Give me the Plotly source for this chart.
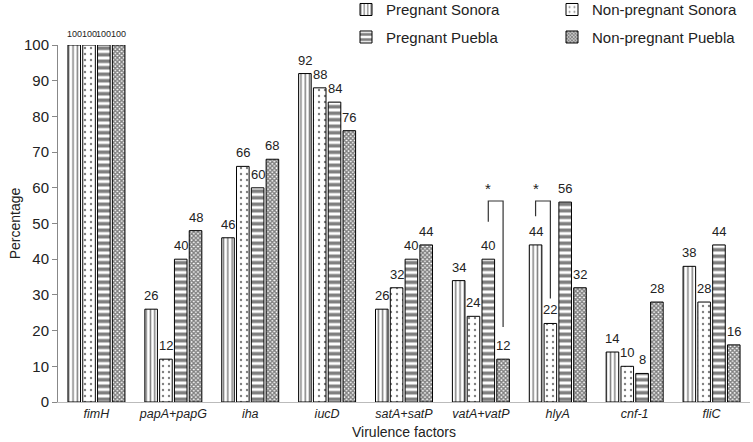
import plotly.graph_objects as go

categories = ["fimH", "papA+papG", "iha", "iucD", "satA+satP", "vatA+vatP", "hlyA", "cnf-1", "fliC"]
series_names = ["Pregnant Sonora", "Non-pregnant Sonora", "Pregnant Puebla", "Non-pregnant Puebla"]
pregnant_sonora = [100, 26, 46, 92, 26, 34, 44, 14, 38]
nonpregnant_sonora = [100, 12, 66, 88, 32, 24, 22, 10, 28]
pregnant_puebla = [100, 40, 60, 84, 40, 40, 56, 8, 44]
nonpregnant_puebla = [100, 48, 68, 76, 44, 12, 32, 28, 16]
y_ticks = [0, 10, 20, 30, 40, 50, 60, 70, 80, 90, 100]

series_values = [pregnant_sonora, nonpregnant_sonora, pregnant_puebla, nonpregnant_puebla]
FONT = "Liberation Sans, Arial, sans-serif"

patterns = [
    dict(shape="|", size=4.3, solidity=0.35, fgcolor="black", bgcolor="white", fillmode="overlay"),
    dict(shape=".", size=6, solidity=0.12, fgcolor="black", bgcolor="white", fillmode="overlay"),
    dict(shape="-", size=6.5, solidity=0.55, fgcolor="black", bgcolor="white", fillmode="overlay"),
    dict(shape="x", size=3, solidity=0.7, fgcolor="black", bgcolor="white", fillmode="overlay"),
]

BARGAP = 0.23
n = len(series_names)
slot = (1 - BARGAP) / n
x_idx = list(range(len(categories)))

fig = go.Figure()
for k, (name, vals) in enumerate(zip(series_names, series_values)):
    fig.add_trace(go.Bar(
        x=x_idx, y=vals, name=name,
        marker=dict(color="white", line=dict(color="black", width=1), pattern=patterns[k]),
        legend="legend" if k % 2 == 0 else "legend2",
        legendgroup=name,
        hoverinfo="skip",
    ))

annotations = []
for k, vals in enumerate(series_values):
    off = (k - (n - 1) / 2) * slot
    for i, v in enumerate(vals):
        annotations.append(dict(
            x=i + off, y=v, xref="x", yref="y", text=str(v), showarrow=False,
            yanchor="bottom", yshift=4,
            font=dict(size=9 if v == 100 else 13, family=FONT, color="#222"),
        ))

def bar_x(cat, k):
    return cat + (k - (n - 1) / 2) * slot

shapes = []
# significance brackets: vatA+vatP (Pregnant Puebla vs Non-pregnant Puebla), hlyA (Pregnant Sonora vs Non-pregnant Sonora)
brackets = [
    (5, 2, 3, 56.3, 50.5, 21.0),
    (6, 0, 1, 56.3, 52.0, 29.0),
]
for cat, ka, kb, top, ya, yb in brackets:
    xa, xb = bar_x(cat, ka), bar_x(cat, kb)
    shapes.append(dict(type="path", xref="x", yref="y",
                       path=f"M {xa},{ya} L {xa},{top} L {xb},{top} L {xb},{yb}",
                       line=dict(color="#333", width=1.2)))
    annotations.append(dict(x=xa, y=top, xref="x", yref="y", text="*", showarrow=False,
                            yanchor="bottom", yshift=2, font=dict(size=15, family=FONT, color="#222")))

# x-axis title placed slightly lower than plotly's minimum standoff allows
annotations.append(dict(x=0.5, y=-30 / 357, xref="paper", yref="paper", text="Virulence factors",
                        showarrow=False, yanchor="middle", font=dict(size=14, family=FONT, color="#222")))

fig.update_layout(
    width=753, height=442, autosize=False,
    margin=dict(l=58, r=3, t=45, b=40, autoexpand=False),
    paper_bgcolor="white", plot_bgcolor="white",
    font=dict(family=FONT, color="#222"),
    barmode="group", bargap=BARGAP, bargroupgap=0.15,
    annotations=annotations, shapes=shapes,
    legend=dict(x=(346 - 58) / 692, y=1.145, xanchor="left", yanchor="top", orientation="v",
                font=dict(size=15, family=FONT), tracegroupgap=5, itemwidth=30,
                bgcolor="rgba(0,0,0,0)"),
    legend2=dict(x=(552 - 58) / 692, y=1.145, xanchor="left", yanchor="top", orientation="v",
                 font=dict(size=15, family=FONT), tracegroupgap=5, itemwidth=30,
                 bgcolor="rgba(0,0,0,0)"),
    xaxis=dict(
        range=[-0.5, len(categories) - 0.5],
        tickvals=x_idx, ticktext=[f"<i>{c}</i>" for c in categories],
        tickfont=dict(size=12.5, family=FONT), automargin=False,
        showline=True, linecolor="#bbb", linewidth=1, ticks="", showgrid=False, zeroline=False,
    ),
    yaxis=dict(
        range=[0, 100], tickvals=y_ticks, automargin=False,
        tickfont=dict(size=15, family=FONT),
        showline=True, linecolor="#888", linewidth=1, ticks="outside", ticklen=5, tickcolor="#888",
        showgrid=False, zeroline=False,
        title=dict(text="Percentage", font=dict(size=14, family=FONT), standoff=0),
    ),
)

fig.write_html("out.html", config={"displayModeBar": False},
               post_script="document.body.style.margin='0';")
